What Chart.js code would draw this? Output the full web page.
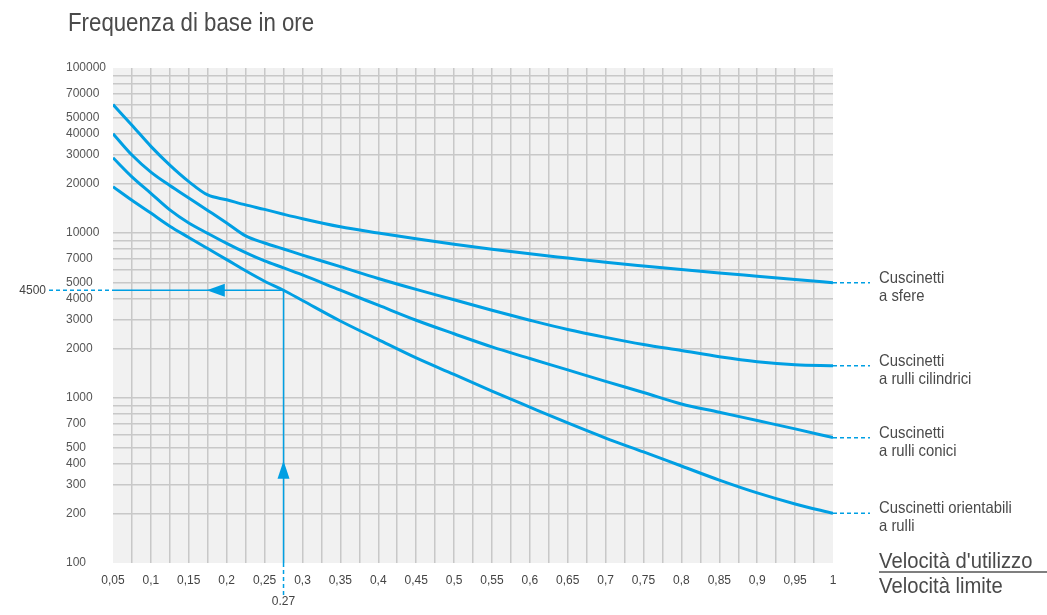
<!DOCTYPE html>
<html lang="it">
<head>
<meta charset="utf-8">
<title>Frequenza di base in ore</title>
<script src="https://cdn.jsdelivr.net/npm/chart.js@4.4.1/dist/chart.umd.min.js"></script>
<style>
  html, body { margin: 0; padding: 0; background: #fff; }
  #wrap { position: relative; width: 1047px; height: 615px; }
</style>
</head>
<body>
<div id="wrap"><canvas id="chart"></canvas></div>
<script>
// Rapporto velocità d'utilizzo / velocità limite (asse X)
const xValues = [0.05, 0.075, 0.1, 0.125, 0.15, 0.175, 0.2, 0.225, 0.25, 0.275, 0.3, 0.35, 0.4,
                 0.45, 0.5, 0.55, 0.6, 0.65, 0.7, 0.75, 0.8, 0.85, 0.9, 0.95, 1];

// Frequenza di base in ore (una curva per tipo di cuscinetto)
const sfere = [60000, 45000, 33500, 25800, 20500, 17000, 15900, 14800, 13900, 13000, 12200, 10900, 10000,
               9220, 8550, 7980, 7480, 7050, 6650, 6310, 6000, 5720, 5470, 5230, 5000];
const cilindrici = [40000, 29700, 23400, 19400, 16300, 13700, 11500, 9600, 8700, 8000, 7350, 6250, 5300,
                    4550, 3940, 3400, 2960, 2600, 2330, 2110, 1940, 1780, 1660, 1590, 1570];
const conici = [28600, 21900, 17400, 13800, 11500, 9950, 8650, 7600, 6770, 6150, 5570, 4500, 3650,
                2960, 2450, 2040, 1735, 1480, 1260, 1080, 920, 820, 730, 650, 575];
const orientabili = [19100, 15800, 13200, 11000, 9400, 8050, 6900, 5900, 5100, 4500, 3900, 2930, 2260,
                     1750, 1390, 1100, 880, 706, 572, 471, 387, 318, 266, 228, 200];

const seriesData = [sfere, cilindrici, conici, orientabili];
const seriesNames = [
  ['Cuscinetti', 'a sfere'],
  ['Cuscinetti', 'a rulli cilindrici'],
  ['Cuscinetti', 'a rulli conici'],
  ['Cuscinetti orientabili', 'a rulli']
];

// Etichette degli assi
const xTickValues = [0.05, 0.1, 0.15, 0.2, 0.25, 0.3, 0.35, 0.4, 0.45, 0.5,
                     0.55, 0.6, 0.65, 0.7, 0.75, 0.8, 0.85, 0.9, 0.95, 1];
const xTickLabels = ['0,05', '0,1', '0,15', '0,2', '0,25', '0,3', '0,35', '0,4', '0,45', '0,5',
                     '0,55', '0,6', '0,65', '0,7', '0,75', '0,8', '0,85', '0,9', '0,95', '1'];
const yLabelValues = [100, 200, 300, 400, 500, 700, 1000, 2000, 3000, 4000, 5000, 7000,
                      10000, 20000, 30000, 40000, 50000, 70000, 100000];

// Esempio di lettura (la linea nel grafico cade a circa 0,275)
const readX = 0.275;
const readXLabel = '0.27';
const readY = 4500;

const titleText = 'Frequenza di base in ore';
const axisTitleTop = "Velocità d'utilizzo";
const axisTitleBottom = 'Velocità limite';

// griglia: una linea ogni 0,025 sull'asse X, 1..9 per decade sull'asse Y
const xGrid = [];
xTickValues.forEach((v, i) => {
  xGrid.push(v);
  if (i < xTickValues.length - 1) xGrid.push((v + xTickValues[i + 1]) / 2);
});
const yGrid = [];
[100, 1000, 10000].forEach(d => { for (let m = 1; m <= 9; m++) yGrid.push(m * d); });
yGrid.push(100000);

const blue = '#009fe3';
const gridColor = '#c8c8c8';
const clear = 'rgba(0,0,0,0)';
const tickFont = "'Liberation Sans', Arial, sans-serif";

// testo "condensato": scala orizzontale del font
function condensedText(ctx, text, x, y, sx) {
  ctx.save();
  ctx.translate(x, y);
  ctx.scale(sx, 1);
  ctx.fillText(text, 0, 0);
  ctx.restore();
}

const decorPlugin = {
  id: 'decor',
  beforeDraw(chart) {
    const { ctx, chartArea: a } = chart;
    ctx.save();
    ctx.fillStyle = '#f1f1f1';
    ctx.fillRect(a.left, a.top, a.right - a.left, a.bottom - a.top);
    ctx.restore();
  },
  beforeDatasetsDraw(chart) {
    const { ctx, chartArea: a, scales: { x, y } } = chart;
    const px = x.getPixelForValue(readX);
    const py = y.getPixelForValue(readY);
    ctx.save();
    ctx.strokeStyle = blue;
    ctx.fillStyle = blue;
    ctx.lineWidth = 1.5;
    ctx.beginPath();
    ctx.moveTo(a.left, py);
    ctx.lineTo(px, py);
    ctx.lineTo(px, a.bottom);
    ctx.stroke();
    // freccia orizzontale verso sinistra
    const hx = a.left + 0.55 * (px - a.left);
    ctx.beginPath();
    ctx.moveTo(hx, py);
    ctx.lineTo(hx + 18, py - 6.5);
    ctx.lineTo(hx + 18, py + 6.5);
    ctx.closePath();
    ctx.fill();
    // freccia verticale verso l'alto
    const vy = py + 0.625 * (a.bottom - py);
    ctx.beginPath();
    ctx.moveTo(px, vy);
    ctx.lineTo(px - 6, vy + 18);
    ctx.lineTo(px + 6, vy + 18);
    ctx.closePath();
    ctx.fill();
    ctx.restore();
  },
  afterDraw(chart) {
    const { ctx, chartArea: a, scales: { x, y } } = chart;
    const px = x.getPixelForValue(readX);
    const py = y.getPixelForValue(readY);
    ctx.save();
    // tratteggi
    ctx.strokeStyle = blue;
    ctx.lineWidth = 1.5;
    ctx.setLineDash([4, 3]);
    ctx.beginPath();
    ctx.moveTo(49, py);
    ctx.lineTo(a.left, py);
    ctx.moveTo(px, a.bottom);
    ctx.lineTo(px, a.bottom + 33);
    seriesData.forEach(d => {
      const ey = y.getPixelForValue(d[d.length - 1]);
      ctx.moveTo(a.right, ey);
      ctx.lineTo(a.right + 37, ey);
    });
    ctx.stroke();
    ctx.setLineDash([]);

    // valori letti
    ctx.fillStyle = '#444';
    ctx.font = `12px ${tickFont}`;
    ctx.textBaseline = 'middle';
    ctx.textAlign = 'right';
    ctx.fillText(String(readY), 46, py);
    ctx.textAlign = 'center';
    ctx.fillText(readXLabel, px, a.bottom + 39);

    // titolo
    ctx.fillStyle = '#4a4a4a';
    ctx.textAlign = 'left';
    ctx.textBaseline = 'alphabetic';
    ctx.font = `25px ${tickFont}`;
    condensedText(ctx, titleText, 68, 31, 0.89);

    // nomi delle curve
    ctx.font = `16.5px ${tickFont}`;
    seriesNames.forEach((lines, i) => {
      const d = seriesData[i];
      const ey = y.getPixelForValue(d[d.length - 1]);
      condensedText(ctx, lines[0], a.right + 46, ey, 0.9);
      condensedText(ctx, lines[1], a.right + 46, ey + 18, 0.9);
    });

    // titolo asse X (frazione)
    ctx.font = `22px ${tickFont}`;
    condensedText(ctx, axisTitleTop, a.right + 46, 568, 0.92);
    condensedText(ctx, axisTitleBottom, a.right + 46, 593, 0.92);
    ctx.strokeStyle = '#555';
    ctx.lineWidth = 1.5;
    ctx.beginPath();
    ctx.moveTo(a.right + 46, 572);
    ctx.lineTo(1047, 572);
    ctx.stroke();
    ctx.restore();
  }
};

const chart = new Chart(document.getElementById('chart'), {
  type: 'line',
  data: {
    datasets: seriesData.map((d, i) => ({
      label: seriesNames[i].join(' '),
      data: xValues.map((v, j) => ({ x: v, y: d[j] })),
      borderColor: blue,
      borderWidth: 3,
      pointRadius: 0,
      fill: false,
      cubicInterpolationMode: 'monotone'
    }))
  },
  options: {
    responsive: true,
    maintainAspectRatio: false,
    animation: false,
    layout: { padding: { left: 66, right: 214, top: 68, bottom: 0 } },
    plugins: {
      legend: { display: false },
      tooltip: { enabled: false }
    },
    scales: {
      x: {
        type: 'linear',
        min: 0.05,
        max: 1,
        afterBuildTicks: s => { s.ticks = xGrid.map(v => ({ value: v })); },
        afterFit: s => { s.height = 52; },
        grid: {
          color: c => (c.index === 0 || c.index === xGrid.length - 1) ? clear : gridColor,
          lineWidth: 1.5,
          drawTicks: false
        },
        border: { display: false },
        ticks: {
          autoSkip: false,
          maxRotation: 0,
          padding: 10,
          color: '#444',
          font: { size: 12, family: tickFont },
          callback: (v, i) => (i % 2 === 0 ? xTickLabels[i / 2] : '')
        }
      },
      y: {
        type: 'logarithmic',
        min: 100,
        max: 100000,
        afterBuildTicks: s => { s.ticks = yGrid.map(v => ({ value: v })); },
        afterFit: s => { s.width = 47; },
        grid: {
          color: c => (c.index === 0 || c.index === yGrid.length - 1) ? clear : gridColor,
          lineWidth: 1.5,
          drawTicks: false
        },
        border: { display: false },
        ticks: {
          autoSkip: false,
          crossAlign: 'far',
          color: '#555',
          font: { size: 12, family: tickFont },
          callback: v => (yLabelValues.includes(v) ? String(v) : '')
        }
      }
    }
  },
  plugins: [decorPlugin]
});
</script>
</body>
</html>
